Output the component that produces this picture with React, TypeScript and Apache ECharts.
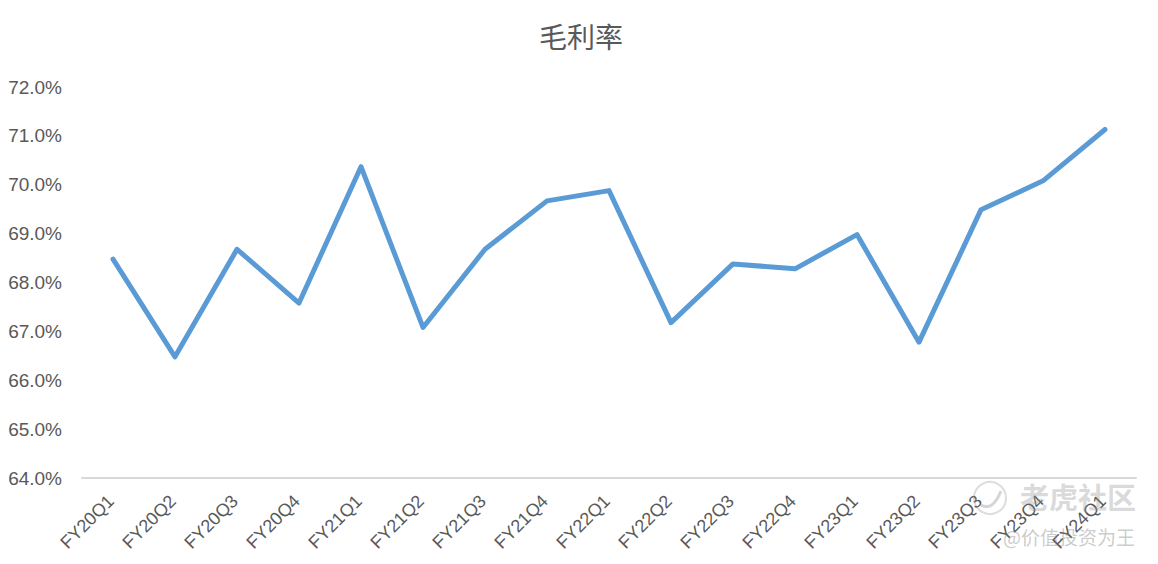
import React, { useEffect, useRef } from "react";
import * as echarts from "echarts";

const titleText = "毛利率";
const categories = ["FY20Q1","FY20Q2","FY20Q3","FY20Q4","FY21Q1","FY21Q2","FY21Q3","FY21Q4","FY22Q1","FY22Q2","FY22Q3","FY22Q4","FY23Q1","FY23Q2","FY23Q3","FY23Q4","FY24Q1"];
const grossMargin = [68.48,66.48,68.68,67.58,70.37,67.08,68.68,69.67,69.88,67.18,68.38,68.28,68.98,66.78,69.49,70.08,71.13];
const watermarkMain = "老虎社区";
const watermarkSub = "@价值投资为王";

const font = "'Liberation Sans', 'Noto Sans CJK SC', sans-serif";

export default function App() {
  const ref = useRef<HTMLDivElement>(null);
  useEffect(() => {
    const chart = echarts.init(ref.current!, undefined, { renderer: "svg" });
    chart.setOption({
      animation: false,
      backgroundColor: "#ffffff",
      title: {
        text: titleText,
        left: 534,
        top: 17,
        textStyle: { color: "#595959", fontSize: 28, fontWeight: "normal", fontFamily: "'Noto Sans CJK SC', sans-serif" },
      },
      grid: { left: 82, right: 22, top: 87, bottom: 86, containLabel: false },
      xAxis: {
        type: "category",
        data: categories,
        boundaryGap: true,
        axisLine: { lineStyle: { color: "#d9d9d9", width: 2 } },
        axisTick: { show: false },
        axisLabel: { rotate: 45, interval: 0, color: "#595959", fontSize: 18, fontFamily: font, margin: 18, padding: [0, 3, 0, 0] },
      },
      yAxis: {
        type: "value",
        min: 64,
        max: 72,
        interval: 1,
        axisLine: { show: false },
        axisTick: { show: false },
        splitLine: { show: false },
        axisLabel: {
          color: "#595959", fontSize: 19, fontFamily: font, margin: 20, padding: [0, 0, 1, 0],
          formatter: (v: number) => v.toFixed(1) + "%",
        },
      },
      series: [{
        type: "line",
        data: grossMargin,
        symbol: "none",
        smooth: false,
        lineStyle: { color: "#5B9BD5", width: 5, cap: "round", join: "round" },
      }],
      graphic: [
        { type: "circle", shape: { cx: 990, cy: 498, r: 16 }, style: { fill: "none", stroke: "rgba(150,150,150,0.32)", lineWidth: 2 }, z: 100 },
        { type: "bezierCurve", shape: { x1: 981, y1: 505, x2: 1001, y2: 491, cpx1: 990, cpy1: 510, cpx2: 996, cpy2: 503 }, style: { fill: "none", stroke: "rgba(150,150,150,0.4)", lineWidth: 3 }, z: 100 },
        { type: "text", x: 1020, y: 481, style: { text: watermarkMain, fill: "rgba(150,150,150,0.36)", fontSize: 29, fontFamily: "'Noto Sans CJK SC', sans-serif", fontWeight: "bold" }, z: 100 },
        { type: "text", x: 1003, y: 527, style: { text: watermarkSub, fill: "rgba(130,130,130,0.42)", fontSize: 19, fontFamily: "'Noto Sans CJK SC', sans-serif" }, z: 100 },
      ],
    });
    return () => chart.dispose();
  }, []);
  return <div ref={ref} style={{ position: "fixed", left: 0, top: 0, width: 1158, height: 564 }} />;
}
